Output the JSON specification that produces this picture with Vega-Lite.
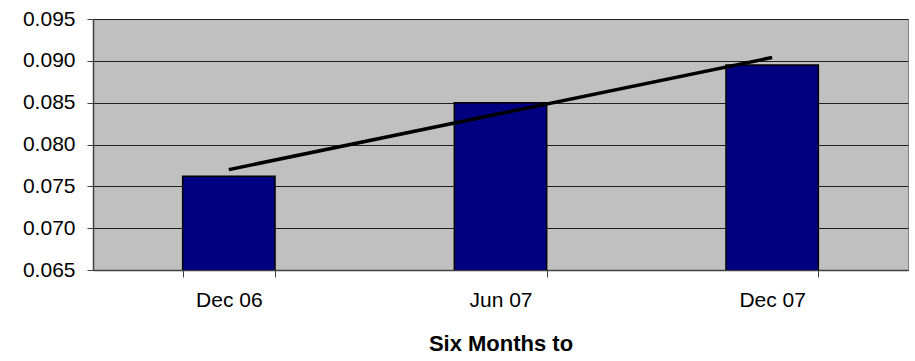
{
  "$schema": "https://vega.github.io/schema/vega-lite/v6.json",
  "autosize": "none",
  "width": 815,
  "height": 251,
  "padding": {"left": 93, "top": 19, "right": 7, "bottom": 91},
  "background": "white",
  "data": {
    "values": [
      {"period": "Dec 06", "value": 0.0762, "trend": 0.0770},
      {"period": "Jun 07", "value": 0.0850, "trend": 0.0837},
      {"period": "Dec 07", "value": 0.0895, "trend": 0.0904}
    ]
  },
  "config": {
    "view": {"fill": "#C0C0C0", "stroke": "#808080", "strokeWidth": 1},
    "font": "Liberation Sans"
  },
  "encoding": {
    "x": {
      "field": "period",
      "type": "nominal",
      "sort": null,
      "scale": {"paddingInner": 0.66, "paddingOuter": 0.33},
      "axis": {
        "title": "Six Months to",
        "titleFont": "Liberation Sans",
        "titleFontSize": 22,
        "titleFontWeight": "bold",
        "titleColor": "black",
        "titlePadding": 23,
        "labelFont": "Liberation Sans",
        "labelFontSize": 21,
        "labelColor": "black",
        "labelAngle": 0,
        "labelPadding": 12,
        "tickBand": "extent",
        "tickSize": 7,
        "tickColor": "#404040",
        "domainColor": "#404040",
        "domainWidth": 1.5,
        "grid": false
      }
    }
  },
  "layer": [
    {
      "mark": {"type": "bar", "color": "#000080", "stroke": "black", "strokeWidth": 1.5, "clip": true},
      "encoding": {
        "y": {
          "field": "value",
          "type": "quantitative",
          "scale": {"domain": [0.065, 0.095], "zero": false, "nice": false},
          "axis": {
            "title": null,
            "values": [0.065, 0.07, 0.075, 0.08, 0.085, 0.09, 0.095],
            "format": ".3f",
            "labelFont": "Liberation Sans",
            "labelFontSize": 21,
            "labelColor": "black",
            "labelPadding": 12,
            "tickSize": 6,
            "tickColor": "#404040",
            "domainColor": "#404040",
            "domainWidth": 1.5,
            "grid": true,
            "gridColor": "#202020",
            "gridWidth": 1
          }
        }
      }
    },
    {
      "mark": {"type": "line", "color": "black", "strokeWidth": 3.5},
      "encoding": {
        "y": {"field": "trend", "type": "quantitative"}
      }
    }
  ]
}
